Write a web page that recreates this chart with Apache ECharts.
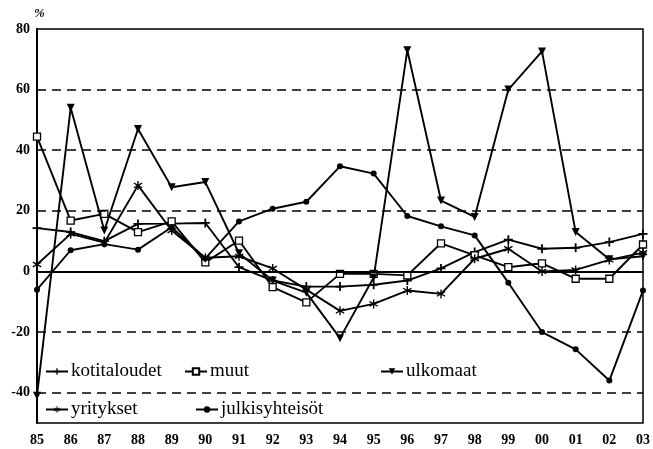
<!DOCTYPE html>
<html>
<head>
<meta charset="utf-8">
<script src="https://cdn.jsdelivr.net/npm/echarts@6/dist/echarts.min.js"></script>
<style>
  html, body { margin: 0; padding: 0; background: #fff; }
  #chart { width: 653px; height: 449px; }
</style>
</head>
<body>
<div id="chart"></div>
<script>
  // vuodet 1985-2003
  var years = ['85', '86', '87', '88', '89', '90', '91', '92', '93', '94', '95', '96', '97', '98', '99', '00', '01', '02', '03']
  var yTicks = [-40, -20, 0, 20, 40, 60, 80]
  var gridLines = [60, 40, 20, -20, -40]

  var kotitaloudet = [14.3, 13, 10, 15.7, 15.8, 16, 1.4, -3, -5, -5, -4.4, -3, 1, 6.4, 10.5, 7.5, 7.8, 9.7, 12.4]
  var muut = [44.5, 16.8, 19, 13, 16.5, 3, 10.2, -5.2, -10.2, -0.8, -0.8, -1.3, 9.3, 5.3, 1.4, 2.7, -2.4, -2.4, 8.9]
  var ulkomaat = [-41, 54, 13.5, 47, 27.8, 29.5, 6, -3, -7, -22, -2, 73, 23.4, 18, 60, 72.6, 13, 4, 5]
  var yritykset = [2.3, 12.4, 9.5, 28.4, 13.5, 4.5, 5, 1, -6, -13, -10.7, -6.3, -7.4, 4.2, 7.5, 0, 0.5, 3.8, 6.2]
  var julkisyhteisot = [-6, 7, 9, 7.2, 14.6, 4.3, 16.5, 20.7, 23, 34.7, 32.3, 18.3, 14.9, 11.9, -3.7, -20, -25.7, -36, -6.3]

  var plusPath = 'path://M4,0h2v4h4v2h-4v4h-2v-4h-4v-2h4z'
  var starPath = 'path://M4.3,0h1.4v3.6l3.2,-1.9l0.7,1.2l-3.2,1.9l3.2,1.9l-0.7,1.2l-3.2,-1.9v3.6h-1.4v-3.6l-3.2,1.9l-0.7,-1.2l3.2,-1.9l-3.2,-1.9l0.7,-1.2l3.2,1.9z'

  var font = 'Liberation Serif'

  function makeSeries(name, data, symbol, size, extra) {
    var s = {
      name: name,
      type: 'line',
      data: data,
      symbol: symbol,
      symbolSize: size,
      showAllSymbol: true,
      lineStyle: { color: '#000', width: 1.9 },
      itemStyle: { color: '#000', borderColor: '#000', borderWidth: 0 },
      z: 3,
      animation: false
    }
    for (var k in extra) s[k] = extra[k]
    return s
  }

  var refLines = gridLines.map(function (v) {
    return { yAxis: v, lineStyle: { type: [9, 6], width: 1.7, color: '#000' } }
  })
  refLines.push({ yAxis: 0, lineStyle: { type: 'solid', width: 1.9, color: '#000' } })

  var series = [
    makeSeries('kotitaloudet', kotitaloudet, plusPath, 9, {
      markLine: { silent: true, symbol: 'none', label: { show: false }, data: refLines }
    }),
    makeSeries('muut', muut, 'rect', 7, {
      itemStyle: { color: '#fff', borderColor: '#000', borderWidth: 1.3 }
    }),
    makeSeries('ulkomaat', ulkomaat, 'triangle', 8, { symbolRotate: 180 }),
    makeSeries('yritykset', yritykset, starPath, 9, {}),
    makeSeries('julkisyhteisöt', julkisyhteisot, 'circle', 6, {})
  ]

  function legendAt(name, left, top) {
    return {
      data: [name],
      left: left,
      top: top,
      itemWidth: 22,
      itemHeight: 8,
      itemGap: 0,
      padding: 0,
      selectedMode: false,
      textStyle: { fontFamily: font, fontSize: 19, color: '#000', padding: [0, 0, 0, -2] }
    }
  }

  var chart = echarts.init(document.getElementById('chart'))
  chart.setOption({
    backgroundColor: '#fff',
    grid: {
      left: 37,
      right: 7,
      top: 29,
      bottom: 26,
      show: true,
      borderColor: '#000',
      borderWidth: 1.5,
      containLabel: false
    },
    legend: [
      legendAt('kotitaloudet', 45, 362),
      legendAt('muut', 184, 362),
      legendAt('ulkomaat', 380, 362),
      legendAt('yritykset', 45, 400),
      legendAt('julkisyhteisöt', 195, 400)
    ],
    xAxis: {
      type: 'category',
      data: years,
      boundaryGap: false,
      axisLine: { lineStyle: { color: '#000', width: 2 } },
      axisTick: { show: false },
      axisLabel: {
        color: '#000',
        fontFamily: font,
        fontWeight: 'bold',
        fontSize: 14,
        margin: 10,
        interval: 0
      },
      splitLine: { show: false }
    },
    yAxis: {
      type: 'value',
      min: -50,
      max: 80,
      interval: 10,
      name: '%',
      nameLocation: 'end',
      nameGap: 9,
      nameTextStyle: { fontFamily: font, fontStyle: 'italic', fontWeight: 'bold', fontSize: 13, color: '#000', align: 'left', padding: [0, 0, 0, -3] },
      axisLine: { show: true, lineStyle: { color: '#000', width: 2 } },
      axisTick: { show: false },
      axisLabel: {
        color: '#000',
        fontFamily: font,
        fontWeight: 'bold',
        fontSize: 14,
        margin: 7,
        formatter: function (v) {
          return yTicks.indexOf(v) >= 0 ? String(v) : ''
        }
      },
      splitLine: { show: false }
    },
    series: series
  })
</script>
</body>
</html>
